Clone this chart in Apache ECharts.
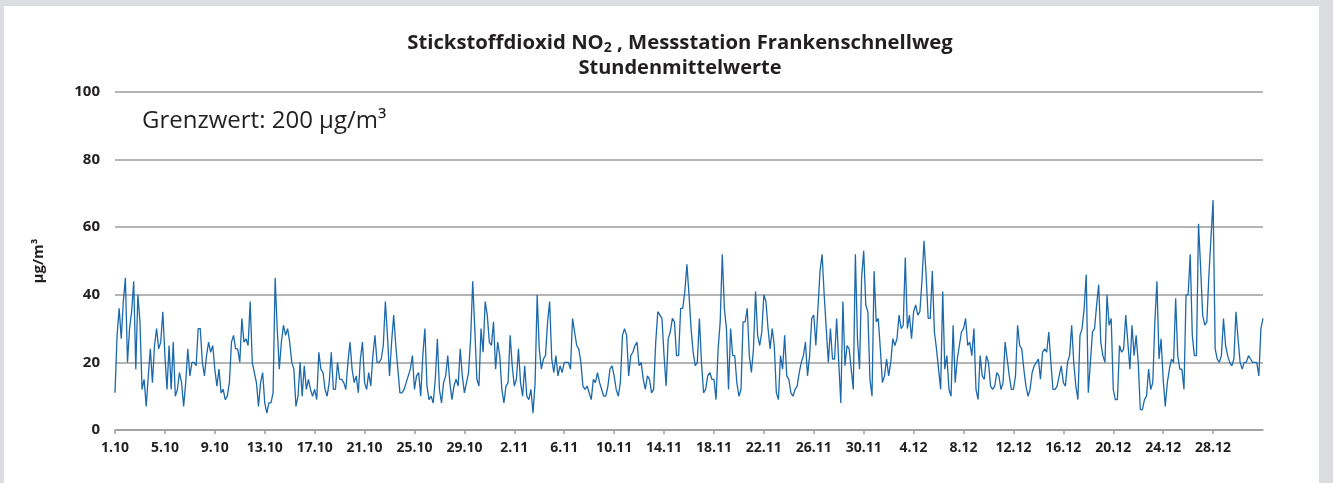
<!DOCTYPE html>
<html>
<head>
<meta charset="utf-8">
<title>Stickstoffdioxid NO2 Frankenschnellweg</title>
<script src="https://cdn.jsdelivr.net/npm/echarts@6/dist/echarts.min.js"></script>
<style>
  html, body { margin: 0; padding: 0; background: #dcdde0; }
  #chart { position: absolute; left: 4px; top: 6px; width: 1315px; height: 477px; background: #ffffff; }
</style>
</head>
<body>
<div id="chart"></div>
<script>
// 4-hour samples, 6 per day
const octoberValues = [
  11, 28, 36, 27, 38, 45,  20, 30, 35, 44, 18, 40,  32, 12, 15, 7, 16, 24,
  14, 25, 30, 24, 26, 35,  22, 12, 25, 12, 26, 10,  12, 17, 14, 7, 14, 24,
  16, 20, 20, 19, 30, 30,  20, 16, 22, 26, 23, 25,  18, 13, 18, 11, 12, 9,
  10, 14, 26, 28, 24, 24,  20, 33, 26, 27, 25, 38,  20, 17, 14, 7, 14, 17,
  8, 5, 8, 8, 11, 45,      30, 18, 26, 31, 28, 30,  26, 20, 18, 7, 10, 20,
  10, 19, 12, 15, 12, 10,  12, 9, 23, 18, 17, 12,   10, 14, 23, 12, 12, 20,
  15, 15, 14, 12, 20, 26,  18, 14, 16, 11, 21, 26,  14, 12, 17, 13, 22, 28,
  20, 20, 21, 25, 38, 28,  16, 26, 34, 25, 18, 11,  11, 12, 14, 16, 18, 22,
  12, 16, 17, 10, 22, 30,  13, 9, 10, 8, 15, 27,    12, 8, 14, 16, 22, 14,
  9, 13, 15, 13, 24, 16,   11, 14, 17, 27, 44, 30,  15, 13, 30, 23, 38, 34,
  26, 25, 32, 18, 26, 22
];
const novemberValues = [
  12, 8, 13, 14, 28, 19,   13, 15, 24, 14, 10, 19,  10, 9, 12, 5, 14, 40,
  24, 18, 21, 22, 32, 38,  21, 17, 22, 16, 19, 17,  20, 20, 20, 18, 33, 29,
  25, 24, 20, 13, 12, 13,  11, 9, 15, 14, 17, 14,   12, 10, 10, 13, 18, 19,
  16, 12, 10, 14, 28, 30,  28, 16, 22, 23, 25, 26,  19, 20, 15, 12, 16, 15,
  11, 12, 26, 35, 34, 33,  22, 13, 27, 29, 33, 32,  22, 22, 36, 36, 41, 49,
  40, 30, 23, 19, 20, 33,  20, 11, 12, 16, 17, 15,  15, 9, 24, 32, 52, 36,
  30, 12, 30, 22, 22, 14,  10, 12, 32, 32, 36, 22,  17, 24, 41, 28, 25, 29,
  40, 38, 30, 24, 30, 25,  11, 9, 22, 18, 28, 16,   15, 11, 10, 12, 13, 17,
  20, 22, 26, 16, 22, 33,  34, 25, 36, 47, 52, 40,  30, 20, 30, 21, 21, 33,
  20, 8, 38, 19, 25, 24,   18, 12, 52, 27, 18, 45,  53, 37, 35, 15, 10, 47
];
const decemberValues = [
  32, 33, 24, 14, 16, 21,  16, 20, 27, 25, 27, 34,  30, 31, 51, 30, 34, 27,
  35, 37, 34, 35, 44, 56,  46, 33, 33, 47, 29, 24,  18, 12, 41, 18, 22, 12,
  10, 31, 14, 21, 25, 29,  30, 33, 25, 26, 22, 30,  12, 9, 22, 16, 15, 22,
  20, 13, 12, 13, 17, 16,  12, 14, 26, 21, 16, 12,  12, 16, 31, 25, 24, 18,
  13, 10, 12, 17, 19, 20,  21, 15, 23, 24, 23, 29,  20, 12, 12, 13, 16, 19,
  14, 13, 20, 22, 31, 20,  13, 9, 28, 30, 36, 46,   11, 20, 29, 30, 37, 43,
  26, 22, 20, 40, 31, 33,  12, 9, 9, 25, 23, 24,    34, 26, 18, 31, 22, 28,
  20, 6, 6, 9, 10, 18,     12, 14, 32, 44, 21, 27,  15, 7, 14, 18, 21, 20,
  39, 22, 18, 18, 12, 40,  40, 52, 28, 22, 22, 61,  48, 34, 31, 32, 46, 57,
  68, 24, 21, 20, 22, 33,  25, 22, 20, 19, 21, 35,  27, 20, 18, 20, 20, 22,
  21, 20, 20, 20, 16, 30,  33
];
const tickLabels = ['1.10', '5.10', '9.10', '13.10', '17.10', '21.10', '25.10', '29.10',
  '2.11', '6.11', '10.11', '14.11', '18.11', '22.11', '26.11', '30.11',
  '4.12', '8.12', '12.12', '16.12', '20.12', '24.12', '28.12'];
const samplesPerTick = 24; // 4 days x 6 samples

const values = octoberValues.concat(novemberValues, decemberValues);
const categories = values.map((v, i) => String(i));
const isTick = (i) => i % samplesPerTick === 0 && i / samplesPerTick < tickLabels.length;

const font = "'Open Sans', 'Noto Sans', sans-serif";
const textColor = '#231f20';
const gridColor = '#9d9d9d';
const lineColor = '#1c69ab';

const chart = echarts.init(document.getElementById('chart'), null, { renderer: 'canvas' });
chart.setOption({
  animation: false,
  textStyle: { fontFamily: font },
  grid: { left: 111, right: 56, top: 86, bottom: 53 },
  graphic: [
    {
      type: 'text',
      x: 676,
      y: 37,
      style: {
        text: '{t|Stickstoffdioxid NO}{s|2}{t| , Messstation Frankenschnellweg}',
        align: 'center',
        verticalAlign: 'middle',
        rich: {
          t: { fontFamily: font, fontWeight: 'bold', fontSize: 20.3, fill: textColor, lineHeight: 26 },
          s: { fontFamily: font, fontWeight: 'bold', fontSize: 14, fill: textColor, lineHeight: 26, padding: [10, 0, 0, 0] }
        }
      }
    },
    {
      type: 'text',
      x: 676,
      y: 62,
      style: {
        text: 'Stundenmittelwerte',
        align: 'center',
        verticalAlign: 'middle',
        fontFamily: font, fontWeight: 'bold', fontSize: 20, fill: textColor
      }
    },
    {
      type: 'text',
      x: 138,
      y: 115,
      style: {
        text: 'Grenzwert: 200 µg/m³',
        verticalAlign: 'middle',
        fontFamily: font, fontSize: 24, fill: textColor
      }
    }
  ],
  xAxis: {
    type: 'category',
    data: categories,
    boundaryGap: false,
    axisLine: { lineStyle: { color: gridColor, width: 1.5 } },
    axisTick: { interval: (i) => isTick(i), length: 4, lineStyle: { color: gridColor, width: 1.5 } },
    axisLabel: {
      interval: (i) => isTick(i),
      formatter: (v, i) => tickLabels[i / samplesPerTick] || '',
      color: textColor,
      fontWeight: 'bold',
      fontSize: 14,
      margin: 11
    },
    splitLine: { show: false }
  },
  yAxis: {
    type: 'value',
    min: 0,
    max: 100,
    interval: 20,
    name: 'µg/m³',
    nameLocation: 'middle',
    nameRotate: 90,
    nameGap: 69,
    nameTextStyle: { color: textColor, fontWeight: 'bold', fontSize: 15 },
    axisLine: { show: false },
    axisTick: { show: false },
    axisLabel: { color: textColor, fontWeight: 'bold', fontSize: 15, margin: 15 },
    splitLine: { lineStyle: { color: gridColor, width: 1.5 } }
  },
  series: [
    {
      name: 'NO2',
      type: 'line',
      data: values,
      showSymbol: false,
      lineStyle: { color: lineColor, width: 1.3 },
      itemStyle: { color: lineColor }
    }
  ]
});
</script>
</body>
</html>
